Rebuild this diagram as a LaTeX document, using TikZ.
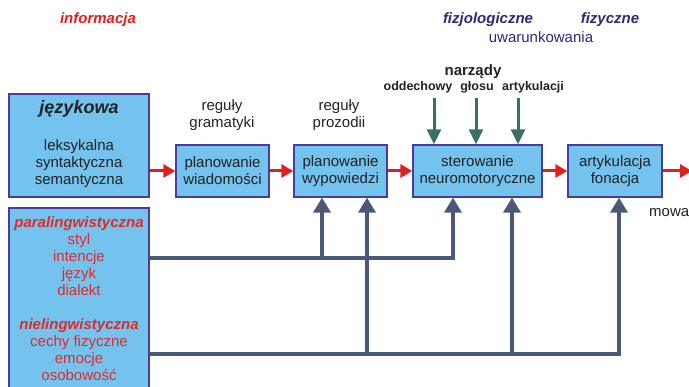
\documentclass[tikz,border=0pt]{standalone}
\usepackage{fontspec}
\setmainfont{Liberation Sans}
\usetikzlibrary{arrows.meta}
\definecolor{boxfill}{RGB}{116,194,238}
\definecolor{boxline}{RGB}{75,60,150}
\definecolor{flowred}{RGB}{224,32,28}
\definecolor{slate}{RGB}{74,88,122}
\definecolor{organ}{RGB}{58,112,98}
\definecolor{navy}{RGB}{43,42,120}
\definecolor{txt}{RGB}{34,34,34}
\definecolor{redtxt}{RGB}{222,44,44}

\begin{document}
\begin{tikzpicture}[x=1pt,y=-1pt,
  box/.style={draw=boxline, line width=1.3pt, fill=boxfill, inner sep=0pt,
    text=txt, align=center, font=\fontsize{15}{17}\selectfont},
  lbl/.style={text=txt, align=center, inner sep=0pt, font=\fontsize{15}{17}\selectfont},
  head/.style={inner sep=0pt, font=\fontsize{15}{17}\selectfont\bfseries\itshape},
  organlbl/.style={text=txt, inner sep=0pt, font=\fontsize{12.5}{14}\selectfont\bfseries},
  flow/.style={draw=flowred, line width=3pt, -{Triangle[length=12pt,width=13pt]}},
  feed/.style={draw=slate, line width=3.5pt},
  feedarrow/.style={feed, -{Triangle[length=15pt,width=17pt]}},
  organarrow/.style={draw=organ, line width=3pt, -{Triangle[length=15pt,width=14pt]}}]
\useasboundingbox (0,0) rectangle (689,387);

% processing chain
\node[box, minimum width=140pt, minimum height=103pt] (jez) at (79,145.5) {};
\node[head, text=txt, font=\fontsize{18}{20}\selectfont\bfseries\itshape] (jezt) at (79,109) {językowa};
\node[lbl] (jezl) at (79,164) {leksykalna\\syntaktyczna\\semantyczna};

\node[box, minimum width=93pt, minimum height=52pt] (wiad) at (222.5,171) {planowanie\\wiadomości};
\node[box, minimum width=93pt, minimum height=52pt] (wyp) at (340.5,171) {planowanie\\wypowiedzi};
\node[box, minimum width=129pt, minimum height=52pt] (ster) at (477.5,171) {sterowanie\\neuromotoryczne};
\node[box, minimum width=94pt, minimum height=52pt] (art) at (615,171) {artykulacja\\fonacja};

% non-linguistic information box
\node[box, minimum width=140pt, minimum height=192pt] (para) at (79,304) {};
\node[lbl, text=redtxt] (parat) at (79,298.5)
  {\textbf{\textit{paralingwistyczna}}\\styl\\intencje\\język\\dialekt\\[17pt]%
   \textbf{\textit{nielingwistyczna}}\\cechy fizyczne\\emocje\\osobowość};

% headings
\node[head, text=flowred] (info) at (98,20) {informacja};
\node[head, text=navy] (fizjo) at (488,20) {fizjologiczne};
\node[head, text=navy] (fiz) at (610,20) {fizyczne};
\node[lbl, text=navy] (uwar) at (541,37) {uwarunkowania};

\node[lbl] (gram) at (222,115.5) {reguły\\gramatyki};
\node[lbl] (proz) at (339,115.5) {reguły\\prozodii};

\node[lbl, font=\fontsize{15}{17}\selectfont\bfseries] (narz) at (473,72) {narządy};
\node[organlbl] (odd) at (418,87) {oddechowy};
\node[organlbl] (glos) at (477,87) {głosu};
\node[organlbl] (artk) at (533,87) {artykulacji};

\node[lbl, anchor=west] (mowa) at (649,213) {mowa};

% main flow
\coordinate (out) at (692,171);
\draw[flow] (jez.east |- wiad.west) -- (wiad.west);
\draw[flow] (wiad.east) -- (wyp.west);
\draw[flow] (wyp.east) -- (ster.west);
\draw[flow] (ster.east) -- (art.west);
\draw[flow] (art.east) -- (out);

% speech organs
\coordinate (o1) at (434,98);
\coordinate (o2) at (476,98);
\coordinate (o3) at (518,98);
\draw[organarrow] (o1) -- (o1 |- ster.north);
\draw[organarrow] (o2) -- (o2 |- ster.north);
\draw[organarrow] (o3) -- (o3 |- ster.north);

% feedback from paralinguistic factors
\coordinate (u1) at (322,258);
\coordinate (u2) at (453,258);
\draw[feed] (para.east |- u1) -- (u1);
\draw[feedarrow] (u1) -- (u1 |- wyp.south);
\draw[feedarrow] (u1) -| (u2 |- ster.south);

% feedback from non-linguistic factors
\coordinate (l1) at (367,354);
\coordinate (l2) at (512,354);
\coordinate (l3) at (619,354);
\draw[feed] (para.east |- l1) -- (l1);
\draw[feedarrow] (l1) -- (l1 |- wyp.south);
\draw[feed] (l1) -- (l2);
\draw[feedarrow] (l2) -- (l2 |- ster.south);
\draw[feedarrow] (l2) -| (l3 |- art.south);
\end{tikzpicture}
\end{document}
